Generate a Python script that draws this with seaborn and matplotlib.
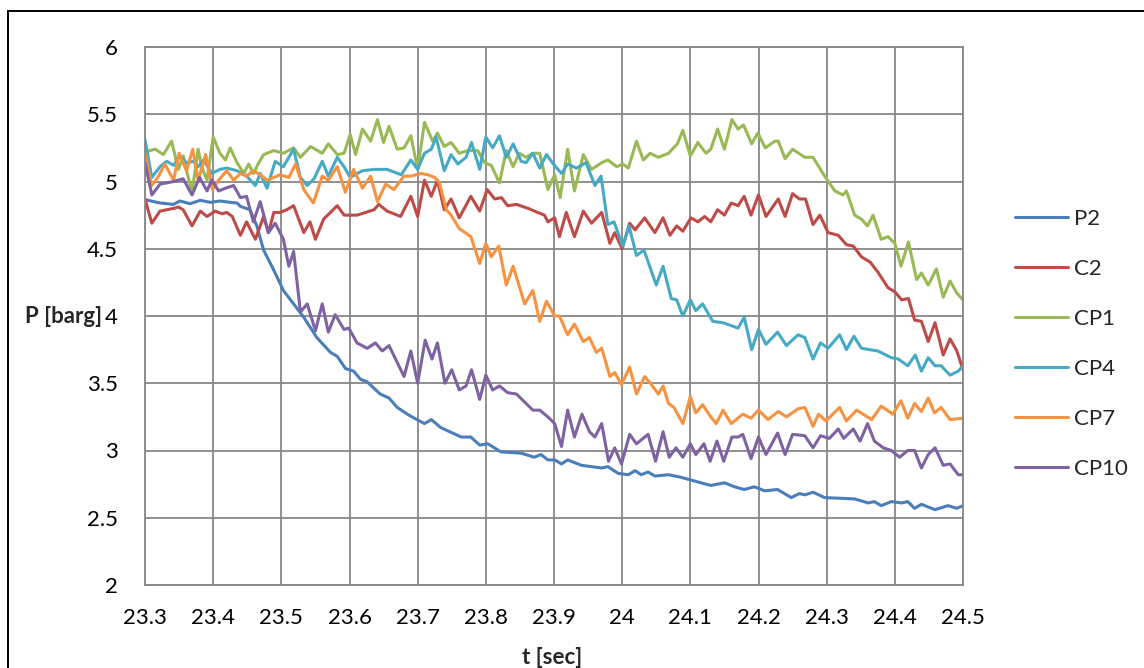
import numpy as np
import pandas as pd
import matplotlib
matplotlib.use("Agg")
import matplotlib.pyplot as plt
from matplotlib.lines import Line2D
from matplotlib.ticker import FuncFormatter
import seaborn as sns

# ---------------------------------------------------------------- data
series_names = ["P2", "C2", "CP1", "CP4", "CP7", "CP10"]

t_P2 = [23.300, 23.322, 23.342, 23.351, 23.366, 23.381, 23.396, 23.410, 23.425, 23.435,
        23.440, 23.454, 23.464, 23.474, 23.489, 23.503, 23.518, 23.533, 23.552, 23.572,
        23.582, 23.594, 23.606, 23.616, 23.626, 23.645, 23.658, 23.670, 23.685, 23.695,
        23.710, 23.720, 23.734, 23.764, 23.778, 23.791, 23.803, 23.822, 23.852, 23.871,
        23.881, 23.891, 23.901, 23.911, 23.920, 23.940, 23.970, 23.979, 23.994, 24.009,
        24.019, 24.028, 24.038, 24.048, 24.068, 24.087, 24.101, 24.130, 24.150, 24.165,
        24.179, 24.194, 24.209, 24.228, 24.248, 24.260, 24.268, 24.280, 24.297, 24.341,
        24.361, 24.370, 24.380, 24.395, 24.410, 24.419, 24.429, 24.439, 24.459, 24.478,
        24.491, 24.500]
p_P2 = [4.865, 4.84, 4.83, 4.855, 4.835, 4.86, 4.845, 4.855, 4.845, 4.84,
        4.815, 4.79, 4.67, 4.49, 4.34, 4.19, 4.09, 3.99, 3.84, 3.73,
        3.70, 3.61, 3.59, 3.53, 3.51, 3.42, 3.39, 3.32, 3.27, 3.24,
        3.20, 3.23, 3.17, 3.10, 3.10, 3.04, 3.05, 2.99, 2.98, 2.95,
        2.97, 2.93, 2.93, 2.90, 2.93, 2.89, 2.87, 2.88, 2.83, 2.82,
        2.85, 2.82, 2.84, 2.81, 2.82, 2.80, 2.78, 2.74, 2.76, 2.73,
        2.71, 2.73, 2.70, 2.71, 2.65, 2.68, 2.67, 2.69, 2.65, 2.64,
        2.61, 2.62, 2.59, 2.62, 2.61, 2.62, 2.57, 2.60, 2.56, 2.59,
        2.57, 2.59]

t_C2 = [23.300, 23.310, 23.322, 23.342, 23.349, 23.356, 23.369, 23.381, 23.391, 23.403,
        23.413, 23.420, 23.428, 23.440, 23.449, 23.462, 23.474, 23.481, 23.489, 23.498,
        23.508, 23.518, 23.533, 23.542, 23.550, 23.562, 23.582, 23.592, 23.611, 23.636,
        23.643, 23.655, 23.675, 23.690, 23.700, 23.710, 23.720, 23.729, 23.739, 23.749,
        23.761, 23.778, 23.791, 23.802, 23.813, 23.823, 23.832, 23.845, 23.862, 23.876,
        23.886, 23.891, 23.901, 23.908, 23.918, 23.930, 23.943, 23.955, 23.970, 23.982,
        23.989, 24.000, 24.011, 24.019, 24.033, 24.048, 24.060, 24.070, 24.080, 24.089,
        24.101, 24.111, 24.121, 24.130, 24.140, 24.150, 24.160, 24.170, 24.179, 24.189,
        24.200, 24.211, 24.229, 24.239, 24.250, 24.260, 24.269, 24.280, 24.290, 24.302,
        24.317, 24.329, 24.339, 24.351, 24.364, 24.376, 24.390, 24.400, 24.410, 24.420,
        24.429, 24.439, 24.449, 24.459, 24.471, 24.481, 24.491, 24.500]
p_C2 = [4.87, 4.69, 4.78, 4.80, 4.81, 4.79, 4.67, 4.78, 4.74, 4.78,
        4.76, 4.77, 4.74, 4.60, 4.70, 4.57, 4.74, 4.62, 4.77, 4.77,
        4.79, 4.82, 4.62, 4.70, 4.57, 4.72, 4.82, 4.75, 4.75, 4.79,
        4.83, 4.78, 4.74, 4.89, 4.74, 5.01, 4.89, 5.01, 4.79, 4.87,
        4.73, 4.89, 4.78, 4.94, 4.87, 4.88, 4.82, 4.83, 4.80, 4.77,
        4.75, 4.70, 4.73, 4.59, 4.77, 4.59, 4.78, 4.69, 4.77, 4.54,
        4.62, 4.50, 4.69, 4.64, 4.73, 4.62, 4.73, 4.60, 4.67, 4.63,
        4.73, 4.70, 4.74, 4.70, 4.79, 4.75, 4.84, 4.82, 4.89, 4.75,
        4.90, 4.74, 4.87, 4.74, 4.91, 4.87, 4.87, 4.68, 4.75, 4.62,
        4.60, 4.53, 4.52, 4.44, 4.40, 4.32, 4.21, 4.18, 4.12, 4.13,
        3.97, 3.96, 3.81, 3.95, 3.71, 3.83, 3.74, 3.60]

t_CP1 = [23.300, 23.307, 23.315, 23.327, 23.339, 23.349, 23.356, 23.361, 23.369, 23.378,
         23.383, 23.391, 23.400, 23.410, 23.418, 23.425, 23.435, 23.445, 23.452, 23.459,
         23.467, 23.474, 23.489, 23.503, 23.518, 23.528, 23.543, 23.560, 23.569, 23.582,
         23.592, 23.601, 23.609, 23.619, 23.631, 23.641, 23.650, 23.658, 23.670, 23.680,
         23.690, 23.700, 23.710, 23.722, 23.729, 23.739, 23.749, 23.761, 23.774, 23.788,
         23.798, 23.808, 23.820, 23.830, 23.840, 23.849, 23.859, 23.869, 23.879, 23.891,
         23.901, 23.909, 23.920, 23.930, 23.943, 23.955, 23.970, 23.979, 23.992, 24.001,
         24.009, 24.021, 24.031, 24.041, 24.053, 24.068, 24.081, 24.089, 24.100, 24.111,
         24.123, 24.130, 24.140, 24.150, 24.161, 24.170, 24.178, 24.190, 24.199, 24.210,
         24.224, 24.229, 24.239, 24.250, 24.268, 24.280, 24.297, 24.312, 24.324, 24.329,
         24.341, 24.351, 24.360, 24.368, 24.380, 24.390, 24.400, 24.409, 24.420, 24.432,
         24.439, 24.449, 24.461, 24.471, 24.481, 24.491, 24.500]
p_CP1 = [5.21, 5.23, 5.24, 5.20, 5.30, 5.09, 5.19, 5.08, 4.92, 5.24,
         5.11, 5.01, 5.33, 5.21, 5.16, 5.25, 5.14, 5.06, 5.13, 5.06,
         5.14, 5.20, 5.23, 5.21, 5.25, 5.18, 5.26, 5.21, 5.28, 5.20,
         5.21, 5.35, 5.20, 5.39, 5.30, 5.46, 5.29, 5.41, 5.24, 5.25,
         5.34, 5.09, 5.44, 5.30, 5.36, 5.26, 5.29, 5.21, 5.23, 5.23,
         5.14, 5.12, 4.99, 5.23, 5.11, 5.21, 5.18, 5.21, 5.21, 4.94,
         5.05, 4.88, 5.24, 4.93, 5.20, 5.09, 5.14, 5.16, 5.11, 5.13,
         5.10, 5.30, 5.16, 5.21, 5.18, 5.21, 5.28, 5.38, 5.19, 5.29,
         5.21, 5.24, 5.39, 5.24, 5.46, 5.39, 5.42, 5.28, 5.36, 5.25,
         5.30, 5.30, 5.17, 5.24, 5.18, 5.18, 5.04, 4.93, 4.90, 4.93,
         4.75, 4.72, 4.67, 4.75, 4.57, 4.59, 4.54, 4.37, 4.55, 4.27,
         4.32, 4.23, 4.35, 4.14, 4.26, 4.17, 4.12]

t_CP4 = [23.300, 23.310, 23.322, 23.332, 23.342, 23.351, 23.361, 23.371, 23.378, 23.386,
         23.398, 23.410, 23.420, 23.435, 23.449, 23.462, 23.469, 23.479, 23.491, 23.503,
         23.518, 23.528, 23.538, 23.548, 23.560, 23.569, 23.582, 23.592, 23.601, 23.619,
         23.636, 23.655, 23.676, 23.690, 23.700, 23.710, 23.720, 23.727, 23.739, 23.749,
         23.759, 23.771, 23.779, 23.791, 23.800, 23.810, 23.820, 23.830, 23.840, 23.852,
         23.859, 23.869, 23.879, 23.889, 23.899, 23.911, 23.920, 23.933, 23.947, 23.960,
         23.969, 23.979, 23.988, 24.001, 24.010, 24.021, 24.032, 24.050, 24.060, 24.072,
         24.080, 24.089, 24.100, 24.108, 24.118, 24.133, 24.148, 24.170, 24.179, 24.190,
         24.200, 24.211, 24.228, 24.241, 24.258, 24.268, 24.280, 24.291, 24.302, 24.319,
         24.329, 24.340, 24.351, 24.375, 24.395, 24.405, 24.419, 24.430, 24.439, 24.449,
         24.459, 24.468, 24.481, 24.493, 24.500]
p_CP4 = [5.31, 5.03, 5.11, 5.15, 5.12, 5.19, 5.14, 5.15, 5.11, 5.16,
         5.06, 5.09, 5.10, 5.08, 5.04, 4.97, 5.06, 4.95, 5.15, 5.11,
         5.24, 5.03, 4.97, 5.02, 5.15, 5.04, 5.18, 5.11, 5.03, 5.08,
         5.09, 5.09, 5.05, 5.16, 5.09, 5.21, 5.24, 5.33, 5.08, 5.20,
         5.13, 5.18, 5.29, 5.09, 5.33, 5.25, 5.34, 5.18, 5.28, 5.15,
         5.14, 5.21, 5.10, 5.20, 5.13, 5.06, 5.13, 5.10, 5.14, 4.97,
         5.04, 4.68, 4.70, 4.52, 4.67, 4.45, 4.49, 4.23, 4.37, 4.13,
         4.12, 4.00, 4.12, 4.04, 4.09, 3.96, 3.95, 3.91, 3.99, 3.75,
         3.90, 3.79, 3.88, 3.78, 3.86, 3.84, 3.68, 3.80, 3.76, 3.86,
         3.75, 3.85, 3.76, 3.74, 3.69, 3.68, 3.63, 3.71, 3.59, 3.69,
         3.63, 3.63, 3.56, 3.59, 3.63]

t_CP7 = [23.300, 23.310, 23.320, 23.329, 23.342, 23.350, 23.361, 23.370, 23.378, 23.389,
         23.399, 23.408, 23.420, 23.430, 23.440, 23.449, 23.459, 23.469, 23.479, 23.489,
         23.498, 23.511, 23.521, 23.533, 23.547, 23.560, 23.569, 23.582, 23.594, 23.606,
         23.619, 23.631, 23.641, 23.653, 23.665, 23.680, 23.690, 23.705, 23.715, 23.725,
         23.732, 23.742, 23.749, 23.761, 23.778, 23.791, 23.800, 23.808, 23.819, 23.830,
         23.840, 23.857, 23.869, 23.879, 23.889, 23.901, 23.908, 23.920, 23.930, 23.943,
         23.952, 23.962, 23.970, 23.982, 23.989, 23.999, 24.011, 24.021, 24.033, 24.043,
         24.053, 24.060, 24.068, 24.076, 24.089, 24.100, 24.108, 24.118, 24.130, 24.138,
         24.148, 24.160, 24.177, 24.189, 24.200, 24.214, 24.229, 24.241, 24.258, 24.268,
         24.280, 24.288, 24.299, 24.319, 24.329, 24.344, 24.366, 24.380, 24.397, 24.409,
         24.419, 24.429, 24.439, 24.449, 24.458, 24.468, 24.481, 24.500]
p_CP7 = [5.21, 4.97, 5.04, 5.13, 5.01, 5.21, 5.08, 5.24, 5.01, 5.20,
         4.94, 5.01, 5.08, 5.01, 5.06, 5.04, 5.08, 5.05, 5.01, 5.03,
         5.05, 5.03, 5.13, 4.94, 4.84, 5.04, 5.01, 5.11, 4.92, 5.09,
         4.95, 5.04, 4.85, 4.98, 4.94, 5.04, 5.04, 5.06, 5.05, 5.03,
         4.99, 4.79, 4.75, 4.65, 4.59, 4.39, 4.54, 4.44, 4.52, 4.23,
         4.37, 4.09, 4.19, 3.96, 4.11, 4.00, 4.00, 3.86, 3.94, 3.81,
         3.84, 3.73, 3.76, 3.55, 3.58, 3.49, 3.62, 3.42, 3.55, 3.49,
         3.42, 3.48, 3.35, 3.32, 3.20, 3.40, 3.28, 3.34, 3.25, 3.20,
         3.30, 3.20, 3.27, 3.24, 3.30, 3.23, 3.29, 3.25, 3.31, 3.32,
         3.18, 3.27, 3.22, 3.32, 3.22, 3.30, 3.23, 3.33, 3.27, 3.37,
         3.24, 3.35, 3.29, 3.39, 3.28, 3.32, 3.23, 3.24]

t_CP10 = [23.300, 23.310, 23.322, 23.342, 23.356, 23.369, 23.380, 23.391, 23.398, 23.408,
          23.418, 23.430, 23.440, 23.449, 23.459, 23.469, 23.481, 23.491, 23.503, 23.511,
          23.518, 23.528, 23.538, 23.550, 23.560, 23.569, 23.579, 23.592, 23.599, 23.611,
          23.626, 23.638, 23.648, 23.658, 23.680, 23.690, 23.700, 23.711, 23.721, 23.729,
          23.740, 23.750, 23.761, 23.771, 23.779, 23.791, 23.800, 23.810, 23.820, 23.832,
          23.845, 23.861, 23.869, 23.879, 23.891, 23.901, 23.911, 23.920, 23.930, 23.941,
          23.952, 23.960, 23.970, 23.980, 23.989, 23.999, 24.011, 24.021, 24.038, 24.049,
          24.060, 24.069, 24.079, 24.089, 24.100, 24.108, 24.120, 24.129, 24.139, 24.149,
          24.161, 24.170, 24.177, 24.189, 24.200, 24.211, 24.228, 24.239, 24.250, 24.268,
          24.280, 24.291, 24.304, 24.317, 24.325, 24.339, 24.349, 24.360, 24.370, 24.383,
          24.395, 24.407, 24.419, 24.429, 24.439, 24.449, 24.459, 24.471, 24.481, 24.493,
          24.500]
p_CP10 = [5.14, 4.90, 4.98, 5.00, 5.02, 4.90, 5.03, 4.93, 5.01, 4.93,
          4.95, 4.97, 4.88, 4.89, 4.70, 4.85, 4.62, 4.69, 4.57, 4.37,
          4.48, 4.03, 4.09, 3.89, 4.09, 3.88, 4.01, 3.90, 3.91, 3.80,
          3.76, 3.80, 3.74, 3.78, 3.55, 3.74, 3.50, 3.82, 3.68, 3.80,
          3.50, 3.60, 3.45, 3.48, 3.60, 3.38, 3.56, 3.45, 3.48, 3.43,
          3.42, 3.34, 3.30, 3.30, 3.25, 3.20, 3.03, 3.30, 3.10, 3.27,
          3.14, 3.10, 3.20, 2.92, 3.02, 2.90, 3.12, 3.05, 3.12, 2.92,
          3.14, 2.95, 3.02, 2.95, 3.05, 2.97, 3.05, 2.92, 3.07, 2.92,
          3.10, 3.10, 3.12, 2.94, 3.10, 2.97, 3.13, 2.97, 3.12, 3.11,
          3.02, 3.11, 3.09, 3.16, 3.09, 3.16, 3.07, 3.20, 3.07, 3.02,
          3.00, 2.95, 3.00, 3.00, 2.87, 2.97, 3.02, 2.89, 2.90, 2.82,
          2.82]

x_ticks = [23.3, 23.4, 23.5, 23.6, 23.7, 23.8, 23.9, 24.0, 24.1, 24.2, 24.3, 24.4, 24.5]
y_ticks = [2, 2.5, 3, 3.5, 4, 4.5, 5, 5.5, 6]

# ---------------------------------------------------------------- frame
times = [t_P2, t_C2, t_CP1, t_CP4, t_CP7, t_CP10]
values = [p_P2, p_C2, p_CP1, p_CP4, p_CP7, p_CP10]
df = pd.concat(
    [pd.DataFrame({"t": t, "P": p, "series": name})
     for name, t, p in zip(series_names, times, values)],
    ignore_index=True,
)

colors = ["#4A7EBB", "#BE4B48", "#98B954", "#46AAC5", "#F69240", "#7E62A1"]
palette = dict(zip(series_names, colors))

# ---------------------------------------------------------------- style
sns.set_theme(style="white")
plt.rcParams["font.family"] = ["Lato", "DejaVu Sans"]
grid_c = "#878787"

W, H = 1144, 668
fig = plt.figure(figsize=(W / 100, H / 100), dpi=100)
ax = fig.add_axes([145 / W, 1 - 585 / H, 818 / W, 538 / H])

sns.lineplot(data=df, x="t", y="P", hue="series", hue_order=series_names,
             palette=palette, estimator=None, sort=False, linewidth=2.2,
             legend=False, ax=ax)
for ln in ax.get_lines():
    ln.set_solid_joinstyle("round")
    ln.set_solid_capstyle("round")

ax.set_xlim(23.3, 24.5)
ax.set_ylim(2, 6)
ax.set_xticks(x_ticks)
ax.set_yticks(y_ticks)
ax.xaxis.set_major_formatter(FuncFormatter(lambda v, _: f"{round(v, 2):g}"))
ax.yaxis.set_major_formatter(FuncFormatter(lambda v, _: f"{round(v, 2):g}"))
ax.grid(True, color=grid_c, linewidth=1.3)
ax.set_axisbelow(True)
for s in ax.spines.values():
    s.set_color(grid_c)
    s.set_linewidth(1.3)
ax.tick_params(axis="both", which="major", direction="out", length=6.5,
               width=1.3, color=grid_c, labelsize=16, labelcolor="black")
ax.tick_params(axis="y", pad=13)
ax.tick_params(axis="x", pad=10)
ax.set_xlabel("")
ax.set_ylabel("")

fig.text(102 / W, 1 - 316 / H, "P [barg]", ha="right", va="center",
         fontsize=16, fontweight="bold")
fig.text(552 / W, 1 - 657 / H, "t [sec]", ha="center", va="center",
         fontsize=16, fontweight="bold")

handles = [Line2D([], [], color=palette[n], linewidth=2.2) for n in series_names]
fig.legend(handles, series_names, loc="center left",
           bbox_to_anchor=(1015 / W, 1 - 344 / H), frameon=False,
           fontsize=16, handlelength=2.4, handletextpad=0.25,
           labelspacing=1.35, borderpad=0, borderaxespad=0)

# outer chart border (top and left edges visible)
fig.add_artist(Line2D([8 / W, 8 / W], [0, 1 - 11 / H], color="black",
                      linewidth=1.4, transform=fig.transFigure))
fig.add_artist(Line2D([8 / W, 1], [1 - 11 / H, 1 - 11 / H], color="black",
                      linewidth=1.4, transform=fig.transFigure))

fig.savefig("out.png", dpi=100, facecolor="white")
